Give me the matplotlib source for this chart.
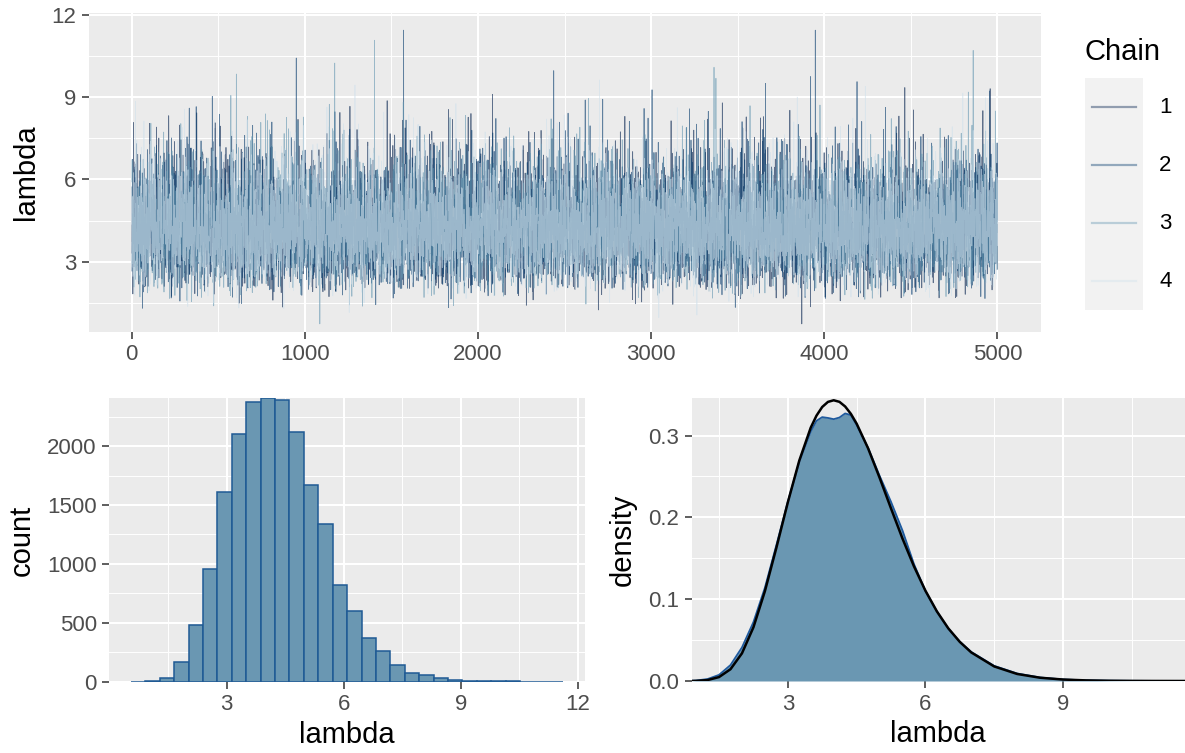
import numpy as np
import matplotlib
matplotlib.use('Agg')
import matplotlib.pyplot as plt
from matplotlib.ticker import MultipleLocator, FixedLocator, FormatStrFormatter

plt.rcParams['font.family'] = ['Liberation Sans', 'DejaVu Sans']

# histogram of all 4 x 5000 draws (30 bins), counts
bin_lo, bin_hi = 0.545, 11.63
hist_counts = [1, 4, 34, 171, 485, 958, 1613, 2107, 2377, 2406,
               2392, 2118, 1668, 1340, 818, 604, 371, 262, 140, 77,
               57, 28, 14, 9, 6, 3, 2, 1, 1, 1]

# density panel: kernel estimate (blue) and reference curve (black), read at these lambda values
dens_x = [0.9, 1.0, 1.25, 1.5, 1.75, 2.0, 2.25, 2.5, 2.75, 3.0, 3.25, 3.5, 3.625, 3.75,
          3.875, 4.0, 4.125, 4.25, 4.375, 4.5, 4.75, 5.0, 5.25, 5.5, 5.75, 6.0, 6.25,
          6.5, 6.75, 7.0, 7.5, 8.0, 8.5, 9.0, 9.5, 10.0, 10.5, 11.0, 11.5, 11.7]
kde_y = [0.0003, 0.0006, 0.0024, 0.0075, 0.0195, 0.041, 0.072, 0.114, 0.166, 0.219,
         0.268, 0.305, 0.318, 0.3225, 0.3215, 0.320, 0.322, 0.327, 0.325, 0.313,
         0.285, 0.251, 0.219, 0.184, 0.143, 0.110, 0.085, 0.064, 0.048, 0.0355,
         0.0185, 0.0092, 0.0043, 0.0019, 0.0008, 0.0004, 0.0002, 0.0001, 0.00005, 0.00003]
ref_y = [0.00006, 0.00017, 0.00114, 0.0048, 0.0144, 0.0338, 0.0656, 0.1097, 0.1627, 0.2183,
         0.2694, 0.3097, 0.3243, 0.3349, 0.3411, 0.3431, 0.3412, 0.3355, 0.3265, 0.3146,
         0.2844, 0.2486, 0.2109, 0.1741, 0.1402, 0.1104, 0.0851, 0.0643, 0.0478, 0.0349,
         0.0178, 0.0086, 0.0040, 0.0018, 0.00075, 0.00031, 0.00013, 0.00005, 0.00002, 0.00001]

chain_names = ['1', '2', '3', '4']
chain_colors = ['#011f4b', '#03396c', '#6497b1', '#d1e1ec']
n_iter = 5000
# the two outliers that stand out in the trace
spike_hi_iter, spike_lo_iter = 1570, 3870

# trace values: the histogram's draws, put back into an order
edges = np.linspace(bin_lo, bin_hi, len(hist_counts) + 1)
pool = np.concatenate([edges[i] + (np.arange(c) + 0.5) / c * (edges[i + 1] - edges[i])
                       for i, c in enumerate(hist_counts)])
pool = np.random.default_rng(7).permutation(pool)
chains = pool[:4 * n_iter].reshape(4, n_iter).copy()
chains[1, spike_hi_iter - 1] = pool.max()
chains[0, spike_lo_iter - 1] = pool.min()
iters = np.arange(1, n_iter + 1)

W, H = 1185, 753
fig = plt.figure(figsize=(W / 100, H / 100), dpi=100)


def box(left, top, right, bottom):
    return [left / W, 1 - bottom / H, (right - left) / W, (bottom - top) / H]


def gg_style(ax, xmaj, xmin, ymaj, ymin):
    ax.set_facecolor('#ebebeb')
    for s in ax.spines.values():
        s.set_visible(False)
    ax.xaxis.set_major_locator(FixedLocator(xmaj))
    ax.xaxis.set_minor_locator(FixedLocator(xmin))
    ax.yaxis.set_major_locator(FixedLocator(ymaj))
    ax.yaxis.set_minor_locator(FixedLocator(ymin))
    ax.grid(which='major', color='white', lw=1.5)
    ax.grid(which='minor', color='white', lw=0.7)
    ax.set_axisbelow(True)
    ax.tick_params(which='major', length=5, width=1.1, color='#333333',
                   labelsize=16, labelcolor='#4d4d4d', pad=4)
    ax.tick_params(which='minor', length=0)


# trace plot
ax1 = fig.add_axes(box(88.7, 13.3, 1040.7, 331.7))
for k in range(4):
    ax1.plot(iters, chains[k], color=chain_colors[k], lw=0.55, alpha=0.6)
gg_style(ax1, [0, 1000, 2000, 3000, 4000, 5000], [500, 1500, 2500, 3500, 4500],
         [3, 6, 9, 12], [1.5, 4.5, 7.5, 10.5])
ax1.set_xlim(1 - 0.05 * (n_iter - 1), n_iter + 0.05 * (n_iter - 1))
ax1.set_ylim(0.445, 12.06)
ax1.set_ylabel('lambda', fontsize=21, labelpad=8)

# legend
lax = fig.add_axes(box(1085, 78.3, 1143.3, 310))
lax.set_facecolor('#f2f2f2')
for s in lax.spines.values():
    s.set_visible(False)
lax.set_xticks([])
lax.set_yticks([])
lax.set_xlim(0, 1)
lax.set_ylim(0, 4)
for k, name in enumerate(chain_names):
    yk = 3.5 - k
    lax.plot([0.12, 0.88], [yk, yk], color=chain_colors[k], lw=1.6, alpha=0.4)
    lax.text(1.27, yk, name, fontsize=16, va='center', ha='left', color='black',
             clip_on=False)
fig.text(1085 / W, 1 - 52 / H, 'Chain', fontsize=21, va='center', ha='left')

# histogram
ax2 = fig.add_axes(box(109.3, 398.3, 585, 681.7))
ax2.bar(edges[:-1], hist_counts, width=np.diff(edges), align='edge',
        color='#6a97b2', edgecolor='#1f5a94', lw=1.1)
gg_style(ax2, [3, 6, 9, 12], [1.5, 4.5, 7.5, 10.5],
         [0, 500, 1000, 1500, 2000], [250, 750, 1250, 1750, 2250])
ax2.set_xlim(edges[0] - 0.05 * (edges[-1] - edges[0]), edges[-1] + 0.05 * (edges[-1] - edges[0]))
ax2.set_ylim(0, max(hist_counts))
ax2.set_xlabel('lambda', fontsize=21, labelpad=4)
ax2.set_ylabel('count', fontsize=21, labelpad=8)

# density
ax3 = fig.add_axes(box(691.5, 398.3, 1185, 681))
ax3.fill_between(dens_x, kde_y, color='#6a97b2', lw=0)
ax3.plot(dens_x, kde_y, color='#1f5a9e', lw=1.3)
ax3.plot(dens_x, ref_y, color='black', lw=1.8)
gg_style(ax3, [3, 6, 9], [1.5, 4.5, 7.5, 10.5],
         [0.0, 0.1, 0.2, 0.3], [0.05, 0.15, 0.25])
ax3.yaxis.set_major_formatter(FormatStrFormatter('%.1f'))
ax3.set_xlim(0.9, 11.66)
ax3.set_ylim(0, 0.3455)
ax3.set_xlabel('lambda', fontsize=21, labelpad=4)
ax3.set_ylabel('density', fontsize=21, labelpad=8)

fig.savefig('out.png', dpi=100)
